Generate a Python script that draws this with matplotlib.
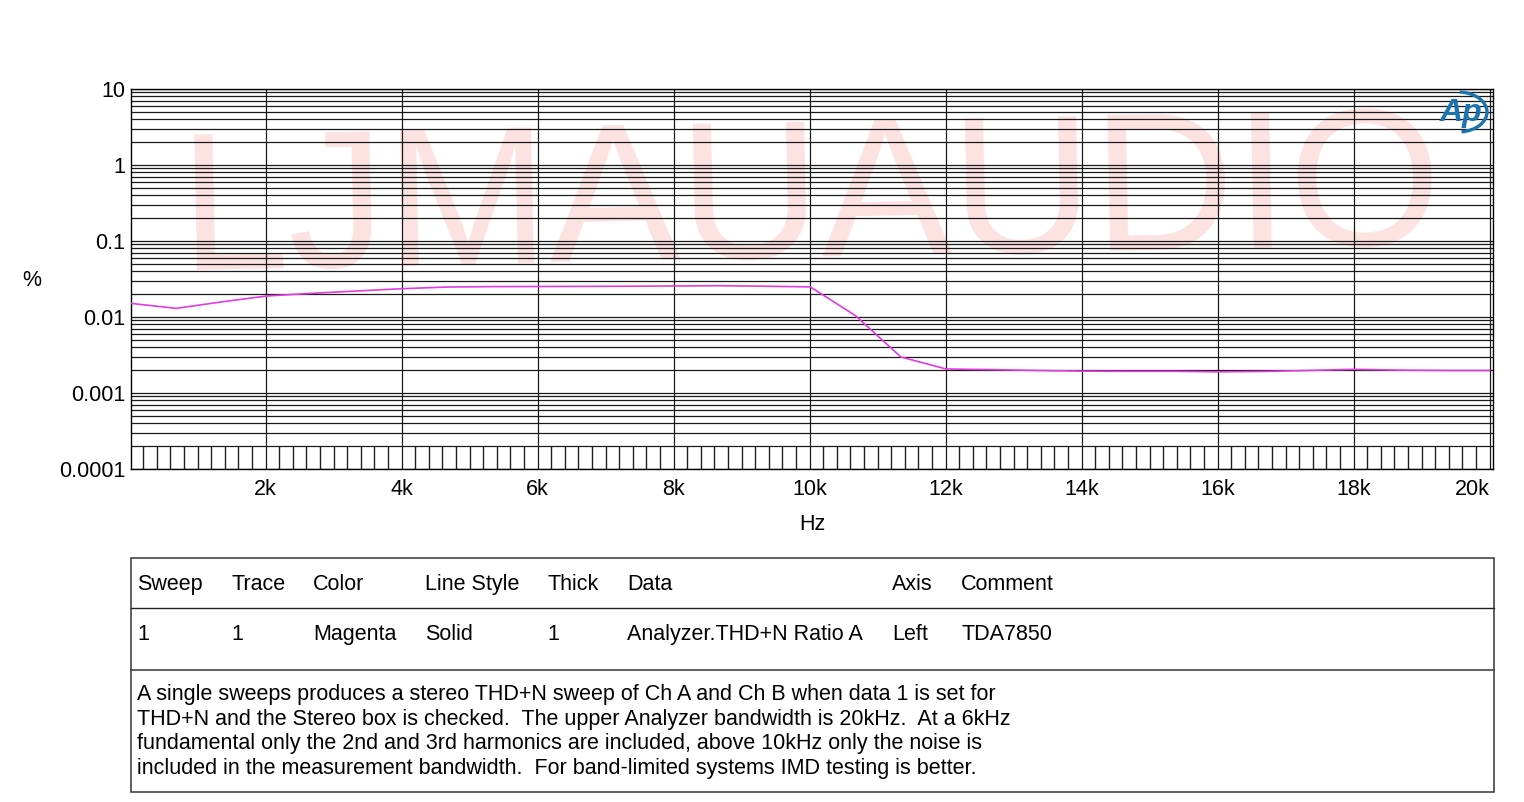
import matplotlib
matplotlib.use("Agg")
import matplotlib.pyplot as plt
from matplotlib.ticker import FixedLocator, LogLocator, NullFormatter, FuncFormatter
from matplotlib.patches import Rectangle, Arc

plt.rcParams['font.family'] = ['Liberation Sans', 'DejaVu Sans']

# sweep data
freq_hz = [20, 686, 1352, 2018, 2684, 3350, 4016, 4682, 5348, 6014, 6680,
           7346, 8012, 8678, 9344, 10010, 10676, 11342, 12008, 12674, 13340,
           14006, 14672, 15338, 16004, 16670, 17336, 18002, 18668, 19334, 20000]
thdn_pct = [0.0151, 0.0130, 0.0158, 0.0189, 0.0205, 0.0220, 0.0236, 0.0248,
            0.0251, 0.0252, 0.0253, 0.0254, 0.0256, 0.0258, 0.0254, 0.0249,
            0.0104, 0.00298, 0.00207, 0.00203, 0.00198, 0.00194, 0.00193,
            0.00193, 0.00190, 0.00192, 0.00198, 0.00205, 0.00200, 0.00198,
            0.00198]

x_ticks = [2000, 4000, 6000, 8000, 10000, 12000, 14000, 16000, 18000, 20000]
x_labels = ['2k', '4k', '6k', '8k', '10k', '12k', '14k', '16k', '18k', '20k']
y_ticks = [0.0001, 0.001, 0.01, 0.1, 1, 10]
y_labels = ['0.0001', '0.001', '0.01', '0.1', '1', '10']

header = ['Sweep', 'Trace', 'Color', 'Line Style', 'Thick', 'Data', 'Axis', 'Comment']
row = ['1', '1', 'Magenta', 'Solid', '1', 'Analyzer.THD+N Ratio A', 'Left', 'TDA7850']
col_x = [137, 231, 313, 425, 547, 627, 892, 961]
note_lines = [
    "A single sweeps produces a stereo THD+N sweep of Ch A and Ch B when data 1 is set for",
    "THD+N and the Stereo box is checked.  The upper Analyzer bandwidth is 20kHz.  At a 6kHz",
    "fundamental only the 2nd and 3rd harmonics are included, above 10kHz only the noise is",
    "included in the measurement bandwidth.  For band-limited systems IMD testing is better.",
]

W, H = 1524, 802
fig = plt.figure(figsize=(W / 100, H / 100), dpi=100)
ax = fig.add_axes([131 / W, 1 - 469 / H, 1362 / W, 380 / H])

ax.plot(freq_hz, thdn_pct, color='#e03ce0', lw=1.2, zorder=3)
ax.set_yscale('log')
ax.set_xlim(20, 20050)
ax.set_ylim(0.0001, 10)

ax.xaxis.set_major_locator(FixedLocator(x_ticks))
ax.set_xticklabels(x_labels, fontsize=15.5)
ax.get_xticklabels()[-1].set_horizontalalignment('right')
ax.xaxis.set_minor_locator(FixedLocator(range(200, 20001, 200)))
ax.tick_params(axis='x', which='major', length=0, pad=7)
ax.tick_params(axis='x', which='minor', direction='in', length=16.5, width=1.0, color='#222222')

ax.yaxis.set_major_locator(FixedLocator(y_ticks))
ax.yaxis.set_major_formatter(FuncFormatter(lambda v, p: y_labels[y_ticks.index(v)] if v in y_ticks else ''))
ax.yaxis.set_minor_locator(LogLocator(base=10, subs=range(2, 10)))
ax.yaxis.set_minor_formatter(NullFormatter())
ax.tick_params(axis='y', which='both', length=0, pad=4, labelsize=15.5)

ax.grid(True, axis='x', which='major', color='#1a1a1a', lw=0.9)
ax.grid(True, axis='y', which='both', color='#1a1a1a', lw=0.9)
for s in ax.spines.values():
    s.set_color('black')
    s.set_linewidth(1.0)

ax.set_xlabel('Hz', fontsize=15.5, labelpad=10)

# watermark behind the grid
ax.text(812 / W, 1 - 257 / H, 'LJMAUAUDIO', transform=fig.transFigure, fontsize=141,
        color='#fde2e2', ha='center', va='baseline', rotation=1.2,
        rotation_mode='anchor', clip_on=False, zorder=0)

# overlay in pixel units for labels, logo and the table
ov = fig.add_axes([0, 0, 1, 1])
ov.set_xlim(0, W)
ov.set_ylim(H, 0)
ov.axis('off')

ov.text(32, 280, '%', fontsize=15.5, ha='center', va='center')

ov.text(1461, 113, 'Ap', fontsize=23, fontstyle='italic', fontweight='bold',
        color='#1b74b0', ha='center', va='center')
ov.add_patch(Arc((1458, 112), 58, 40, theta1=-85, theta2=80, color='#1b74b0', lw=2.4))

ov.add_patch(Rectangle((131, 558), 1363, 234, fill=False, ec='#444444', lw=1.2))
ov.plot([131, 1494], [608, 608], color='#222222', lw=1.0)
ov.plot([131, 1494], [670, 670], color='#444444', lw=1.2)
for x, h, r in zip(col_x, header, row):
    ov.text(x, 590, h, fontsize=15.5, ha='left', va='baseline')
    ov.text(x, 640, r, fontsize=15.5, ha='left', va='baseline')
for i, line in enumerate(note_lines):
    ov.text(137, 700 + i * 24.7, line, fontsize=15.5, ha='left', va='baseline')

fig.savefig('out.png', dpi=100)
